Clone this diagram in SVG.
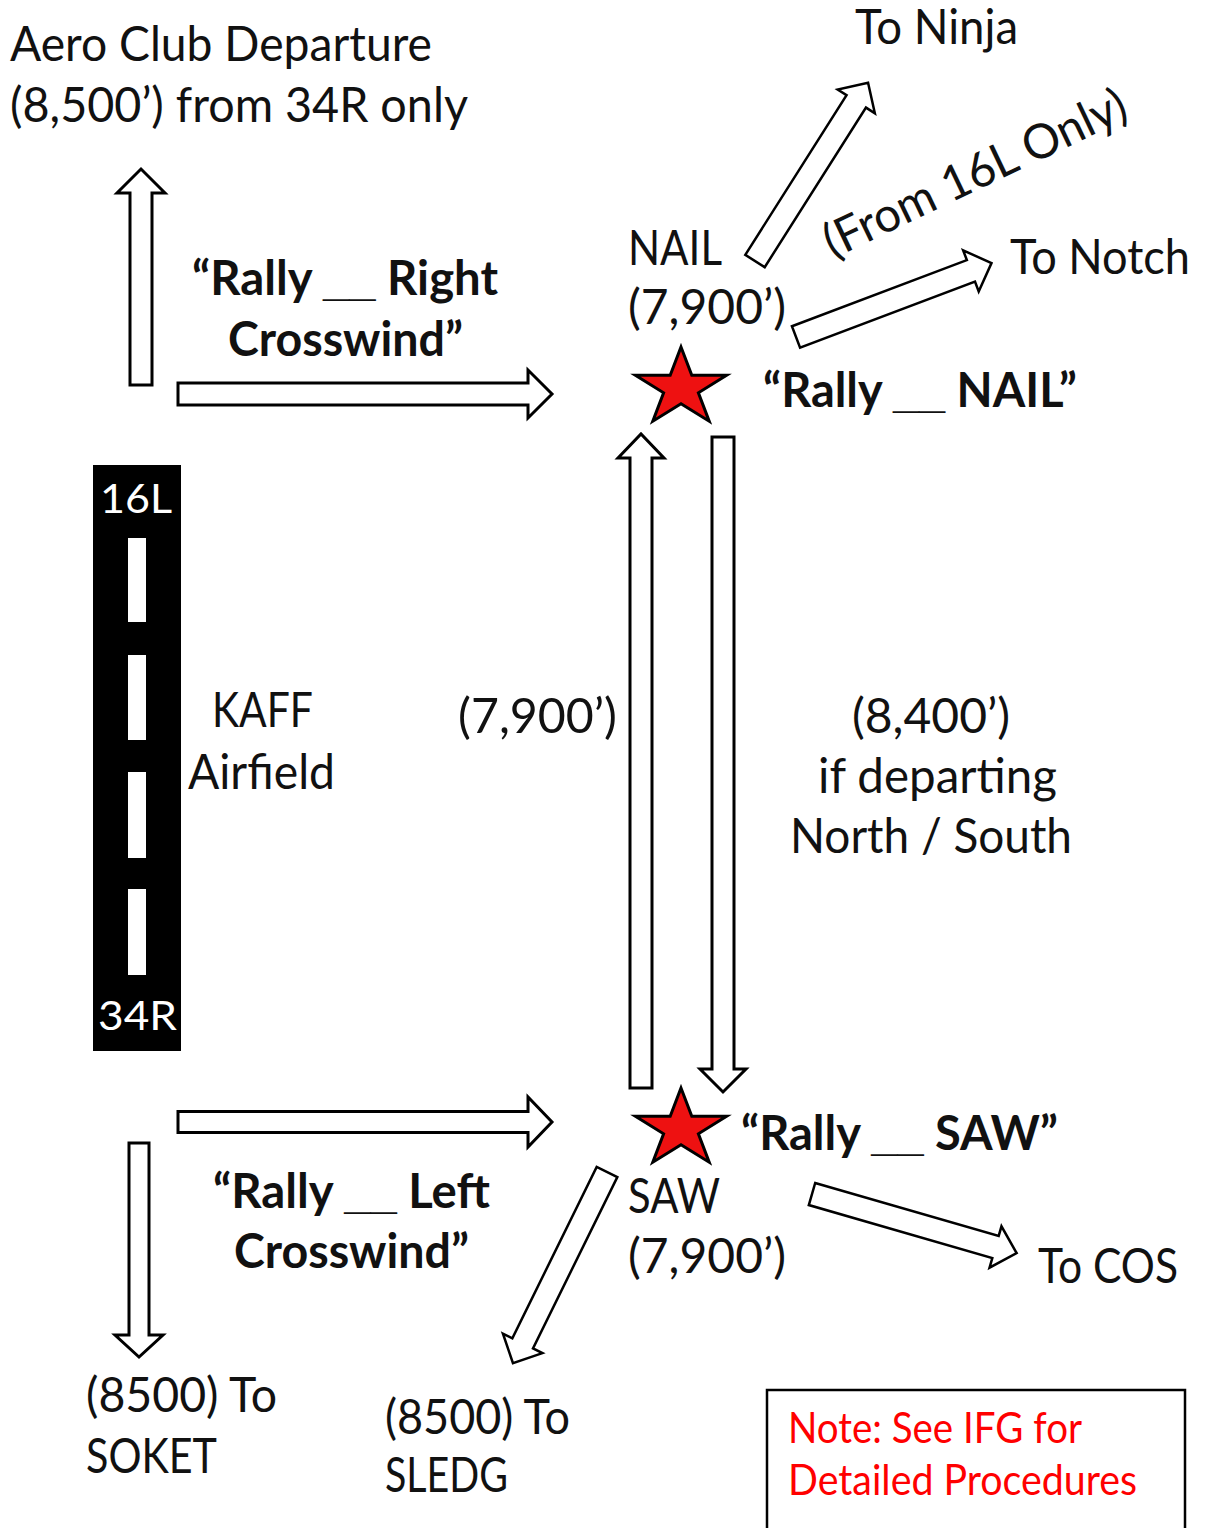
<svg xmlns="http://www.w3.org/2000/svg" width="1206" height="1528" viewBox="0 0 1206 1528">
<style>
.t{font-family:Lato,"Open Sans","Liberation Sans",sans-serif;font-size:48px;fill:#111}
.b{font-family:Lato,"Open Sans","Liberation Sans",sans-serif;font-size:48px;font-weight:bold;fill:#111}
.u{font-family:"Liberation Sans",sans-serif;font-weight:bold}
.w{font-family:Lato,"Open Sans","Liberation Sans",sans-serif;font-size:41px;fill:#fff}
.r{font-family:Lato,"Open Sans","Liberation Sans",sans-serif;font-size:43px;fill:#ff0000}
.arr{fill:#fff;stroke:#000;stroke-width:3;stroke-linejoin:miter}
.darr{fill:#fff;stroke:#000;stroke-width:2.5;stroke-linejoin:miter}
.star{fill:#ee1111;stroke:#000;stroke-width:3;stroke-linejoin:miter}
</style>
<defs>
<path id="starShape" d="M0,-41 L10.8,-12.7 L45.6,-12.7 L17.4,4.8 L28.2,33.2 L0,15.7 L-28.2,33.2 L-17.4,4.8 L-45.6,-12.7 L-10.8,-12.7 Z"/>
</defs>
<rect width="1206" height="1528" fill="#fff"/>

<g id="connectors">
<path class="arr" transform="translate(141,385) rotate(-90)" d="M0,-11 H192 V-24 L216,0 L192,24 V11 H0 Z"/>
<path class="arr" transform="translate(178,394)" d="M0,-11 H350 V-24 L374,0 L350,24 V11 H0 Z"/>
<path class="darr" transform="translate(755,261) rotate(-57.6)" d="M0,-11.5 H189 V-22 L211,0 L189,22 V11.5 H0 Z"/>
<path class="darr" transform="translate(796,337) rotate(-20.7)" d="M0,-11.5 H187 V-22 L209,0 L187,22 V11.5 H0 Z"/>
<path class="arr" transform="translate(641,1088) rotate(-90)" d="M0,-11 H630 V-23 L654,0 L630,23 V11 H0 Z"/>
<path class="arr" transform="translate(723,437) rotate(90)" d="M0,-11 H632 V-23 L655,0 L632,23 V11 H0 Z"/>
<path class="arr" transform="translate(178,1122)" d="M0,-10.5 H350 V-25 L374,0 L350,25 V10.5 H0 Z"/>
<path class="arr" transform="translate(139,1143) rotate(90)" d="M0,-10 H192 V-24 L214,0 L192,24 V10 H0 Z"/>
<path class="darr" transform="translate(607,1172) rotate(116.2)" d="M0,-11.5 H191 V-22 L213,0 L191,22 V11.5 H0 Z"/>
<path class="darr" transform="translate(812,1194) rotate(16.1)" d="M0,-11.5 H191 V-21.5 L213,0 L191,21.5 V11.5 H0 Z"/>
</g>

<g id="aero-club">
<text class="t" x="10" y="61" textLength="422" lengthAdjust="spacingAndGlyphs">Aero Club Departure</text>
<text class="t" x="10" y="122" textLength="458" lengthAdjust="spacingAndGlyphs">(8,500’) from 34R only</text>
</g>

<g id="to-ninja">
<text class="t" x="855" y="44" textLength="163" lengthAdjust="spacingAndGlyphs">To Ninja</text>
</g>

<g id="from-16l">
<text class="t" transform="translate(833,259) rotate(-25.5)" x="0" y="0" textLength="330" lengthAdjust="spacingAndGlyphs">(From 16L Only)</text>
</g>

<g id="to-notch">
<text class="t" x="1010" y="274" textLength="180" lengthAdjust="spacingAndGlyphs">To Notch</text>
</g>

<g id="right-crosswind">
<text class="b" x="192" y="295" textLength="306" lengthAdjust="spacingAndGlyphs">“Rally <tspan class="u">__</tspan> Right</text>
<text class="b" x="228" y="356" textLength="235" lengthAdjust="spacingAndGlyphs">Crosswind”</text>
</g>

<g id="nail">
<text class="t" x="628" y="265" textLength="94" lengthAdjust="spacingAndGlyphs">NAIL</text>
<text class="t" x="628" y="324" textLength="158" lengthAdjust="spacingAndGlyphs">(7,900’)</text>
<use href="#starShape" class="star" transform="translate(681,388)"/>
<text class="b" x="763" y="407" textLength="314" lengthAdjust="spacingAndGlyphs">“Rally <tspan class="u">__</tspan> NAIL”</text>
</g>

<g id="runway">
<rect x="93" y="465" width="88" height="586" fill="#000"/>
<rect x="128" y="538" width="18" height="84" fill="#fff"/>
<rect x="128" y="655" width="18" height="85" fill="#fff"/>
<rect x="128" y="772" width="18" height="86" fill="#fff"/>
<rect x="128" y="889" width="18" height="86" fill="#fff"/>
<text class="w" x="100" y="513" textLength="72" lengthAdjust="spacingAndGlyphs">16L</text>
<text class="w" x="98" y="1030" textLength="79" lengthAdjust="spacingAndGlyphs">34R</text>
</g>

<g id="kaff">
<text class="t" x="212" y="727" textLength="101" lengthAdjust="spacingAndGlyphs">KAFF</text>
<text class="t" x="188" y="789" textLength="147" lengthAdjust="spacingAndGlyphs">Airfield</text>
</g>

<g id="alt-up">
<text class="t" x="458" y="733" textLength="159" lengthAdjust="spacingAndGlyphs">(7,900’)</text>
</g>

<g id="alt-down">
<text class="t" x="852" y="733" textLength="158" lengthAdjust="spacingAndGlyphs">(8,400’)</text>
<text class="t" x="818" y="793" textLength="239" lengthAdjust="spacingAndGlyphs">if departing</text>
<text class="t" x="790" y="853" textLength="282" lengthAdjust="spacingAndGlyphs">North / South</text>
</g>

<g id="saw">
<use href="#starShape" class="star" transform="translate(681,1129)"/>
<text class="b" x="741" y="1150" textLength="317" lengthAdjust="spacingAndGlyphs">“Rally <tspan class="u">__</tspan> SAW”</text>
<text class="t" x="628" y="1213" textLength="92" lengthAdjust="spacingAndGlyphs">SAW</text>
<text class="t" x="628" y="1273" textLength="158" lengthAdjust="spacingAndGlyphs">(7,900’)</text>
</g>

<g id="left-crosswind">
<text class="b" x="213" y="1208" textLength="277" lengthAdjust="spacingAndGlyphs">“Rally <tspan class="u">__</tspan> Left</text>
<text class="b" x="234" y="1268" textLength="235" lengthAdjust="spacingAndGlyphs">Crosswind”</text>
</g>

<g id="to-cos">
<text class="t" x="1038" y="1283" textLength="140" lengthAdjust="spacingAndGlyphs">To COS</text>
</g>

<g id="soket">
<text class="t" x="86" y="1412" textLength="191" lengthAdjust="spacingAndGlyphs">(8500) To</text>
<text class="t" x="86" y="1473" textLength="131" lengthAdjust="spacingAndGlyphs">SOKET</text>
</g>

<g id="sledg">
<text class="t" x="385" y="1434" textLength="185" lengthAdjust="spacingAndGlyphs" fill="#000">(8500) To</text>
<text class="t" x="385" y="1492" textLength="123" lengthAdjust="spacingAndGlyphs" fill="#000">SLEDG</text>
</g>

<g id="note">
<rect x="767" y="1390" width="418" height="150" fill="#fff" stroke="#000" stroke-width="2.5"/>
<text class="r" x="788" y="1443" textLength="294" lengthAdjust="spacingAndGlyphs">Note: See IFG for</text>
<text class="r" x="788" y="1495" textLength="349" lengthAdjust="spacingAndGlyphs">Detailed Procedures</text>
</g>
</svg>
